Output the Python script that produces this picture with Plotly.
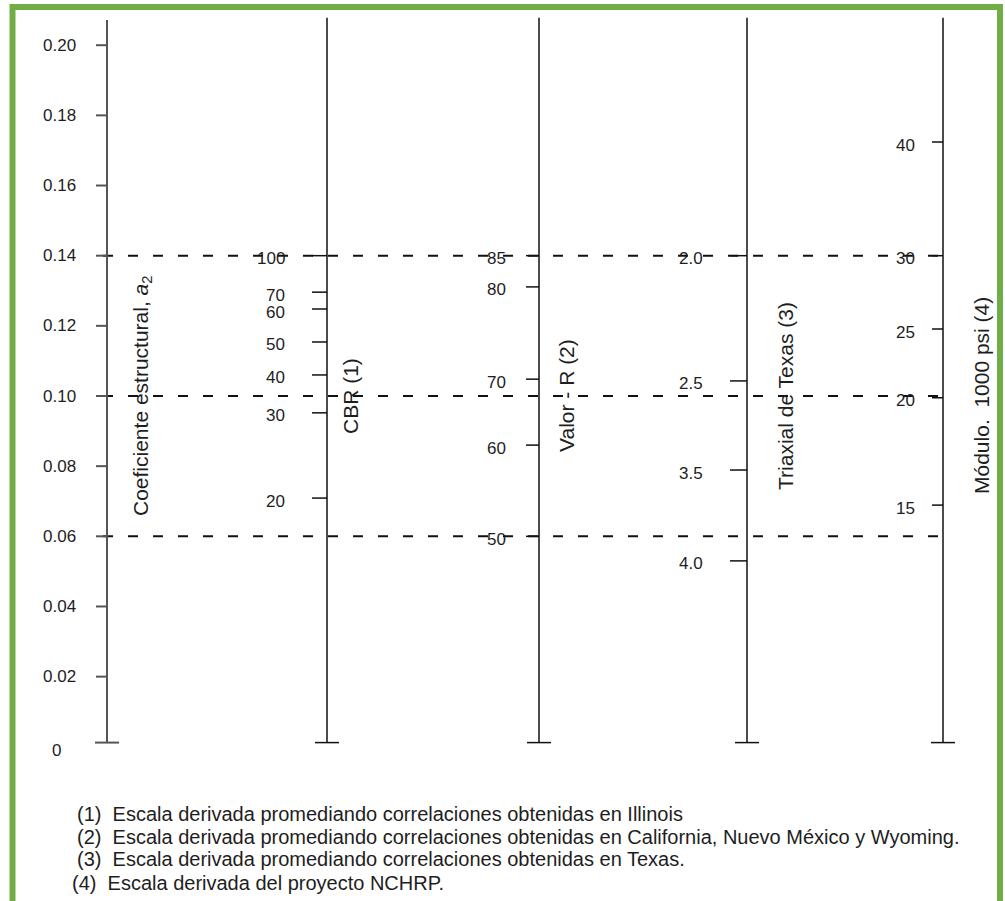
import plotly.graph_objects as go

# ---- scale values -------------------------------------------------------
# Structural coefficient a2 (reference linear scale)
A2_TICKS = [0.20, 0.18, 0.16, 0.14, 0.12, 0.10, 0.08, 0.06, 0.04, 0.02, 0.0]
A2_LABELS = ["0.20", "0.18", "0.16", "0.14", "0.12", "0.10", "0.08",
             "0.06", "0.04", "0.02", "0"]

# Correlated scales, each graduation given by its equivalent a2 value
CBR_LABELS = ["100", "70", "60", "50", "40", "30", "20"]
CBR_AT_A2 = [0.140, 0.1296, 0.1248, 0.1154, 0.1060, 0.0952, 0.0709]

R_LABELS = ["85", "80", "70", "60", "50"]
R_AT_A2 = [0.140, 0.1311, 0.1048, 0.0860, 0.060]

TEXAS_LABELS = ["2.0", "2.5", "3.5", "4.0"]
TEXAS_AT_A2 = [0.140, 0.1043, 0.0789, 0.0530]

MOD_LABELS = ["40", "30", "25", "20", "15"]
MOD_AT_A2 = [0.1724, 0.140, 0.1191, 0.0995, 0.0689]

# Example reading lines across the nomograph
GUIDE_A2 = [0.14, 0.10, 0.06]

AXIS_TITLES = [
    "Coeficiente estructural, <i>a</i><sub>2</sub>",
    "CBR (1)",
    "Valor - R (2)",
    "Triaxial de Texas (3)",
    "Módulo.\u00a0 1000 psi (4)",
]

NOTES = [
    "(1)\u00a0 Escala derivada promediando correlaciones obtenidas en Illinois",
    "(2)\u00a0 Escala derivada promediando correlaciones obtenidas en California, Nuevo México y Wyoming.",
    "(3)\u00a0 Escala derivada promediando correlaciones obtenidas en Texas.",
    "(4)\u00a0 Escala derivada del proyecto NCHRP.",
]

# ---- drawing geometry (horizontal units = pixels) -----------------------
W, H = 1005, 901
Y_TOP, Y_BOT = 0.212885, -0.043957
FONT = "Arial, Liberation Sans, sans-serif"
INK = "#1e1e1e"

scales = [
    dict(x=107, tick=11, lab=78, title_x=142, vals=A2_TICKS, labels=A2_LABELS,
         color="#555555", width=2.0, top=0.2072, shift=0),
    dict(x=327, tick=15, lab=287, title_x=350, vals=CBR_AT_A2, labels=CBR_LABELS,
         color="#111111", width=1.5, top=0.2078, shift=-3),
    dict(x=539, tick=13, lab=508, title_x=566, vals=R_AT_A2, labels=R_LABELS,
         color="#111111", width=1.5, top=0.2078, shift=-3),
    dict(x=747, tick=17, lab=705, title_x=785, vals=TEXAS_AT_A2, labels=TEXAS_LABELS,
         color="#111111", width=1.5, top=0.2078, shift=-3),
    dict(x=943, tick=11, lab=917, title_x=981, vals=MOD_AT_A2, labels=MOD_LABELS,
         color="#111111", width=1.5, top=0.2078, shift=-3),
]

fig = go.Figure()
annotations = []

# dashed guide lines
for g in GUIDE_A2:
    fig.add_trace(go.Scatter(
        x=[103, 946], y=[g, g], mode="lines",
        line=dict(color="#111111", width=2.0, dash="10px,15px"),
        hoverinfo="skip"))

for i, s in enumerate(scales):
    xs, ys = [], []
    # main vertical line
    xs += [s["x"], s["x"], None]
    ys += [0.0012, s["top"], None]
    # base bar
    xs += [s["x"] - 12, s["x"] + 12, None]
    ys += [0.0012, 0.0012, None]
    # graduations
    for v, lab in zip(s["vals"], s["labels"]):
        if not (i == 0 and v == 0.0):
            xs += [s["x"] - s["tick"], s["x"], None]
            ys += [v, v, None]
        if i == 0 and v == 0.0:
            annotations.append(dict(x=63, y=v, text=lab, xref="x", yref="y",
                                    xanchor="right", yanchor="middle", yshift=-4,
                                    showarrow=False, font=dict(family=FONT, size=17, color=INK)))
        else:
            annotations.append(dict(x=s["lab"], y=v, text=lab, xref="x", yref="y",
                                    xanchor="right", yanchor="middle", yshift=s["shift"],
                                    showarrow=False, font=dict(family=FONT, size=17, color=INK)))
    fig.add_trace(go.Scatter(x=xs, y=ys, mode="lines",
                             line=dict(color=s["color"], width=s["width"]),
                             hoverinfo="skip"))
    # rotated scale title
    annotations.append(dict(x=s["title_x"], y=0.10, text=AXIS_TITLES[i], xref="x", yref="y",
                            xanchor="center", yanchor="middle", textangle=-90,
                            showarrow=False, font=dict(family=FONT, size=21, color=INK)))

# footnotes
note_rows = [814, 837, 859, 883]
note_x = [75, 75, 75, 70]
for txt, row, nx in zip(NOTES, note_rows, note_x):
    annotations.append(dict(x=nx, y=1 - row / H, text=txt, xref="x", yref="paper",
                            xanchor="left", yanchor="middle", showarrow=False,
                            font=dict(family=FONT, size=20, color=INK)))

fig.update_layout(
    width=W, height=H,
    margin=dict(l=0, r=0, t=0, b=0),
    paper_bgcolor="white", plot_bgcolor="white",
    showlegend=False,
    xaxis=dict(range=[0, W], visible=False, fixedrange=True),
    yaxis=dict(range=[Y_BOT, Y_TOP], visible=False, fixedrange=True),
    annotations=annotations,
    shapes=[dict(type="rect", xref="x", yref="paper",
                 x0=12.5, x1=1000, y0=-0.05, y1=1 - 7 / H,
                 line=dict(color="#70AD47", width=6), fillcolor="rgba(0,0,0,0)")],
)

fig.write_html("out.html")
